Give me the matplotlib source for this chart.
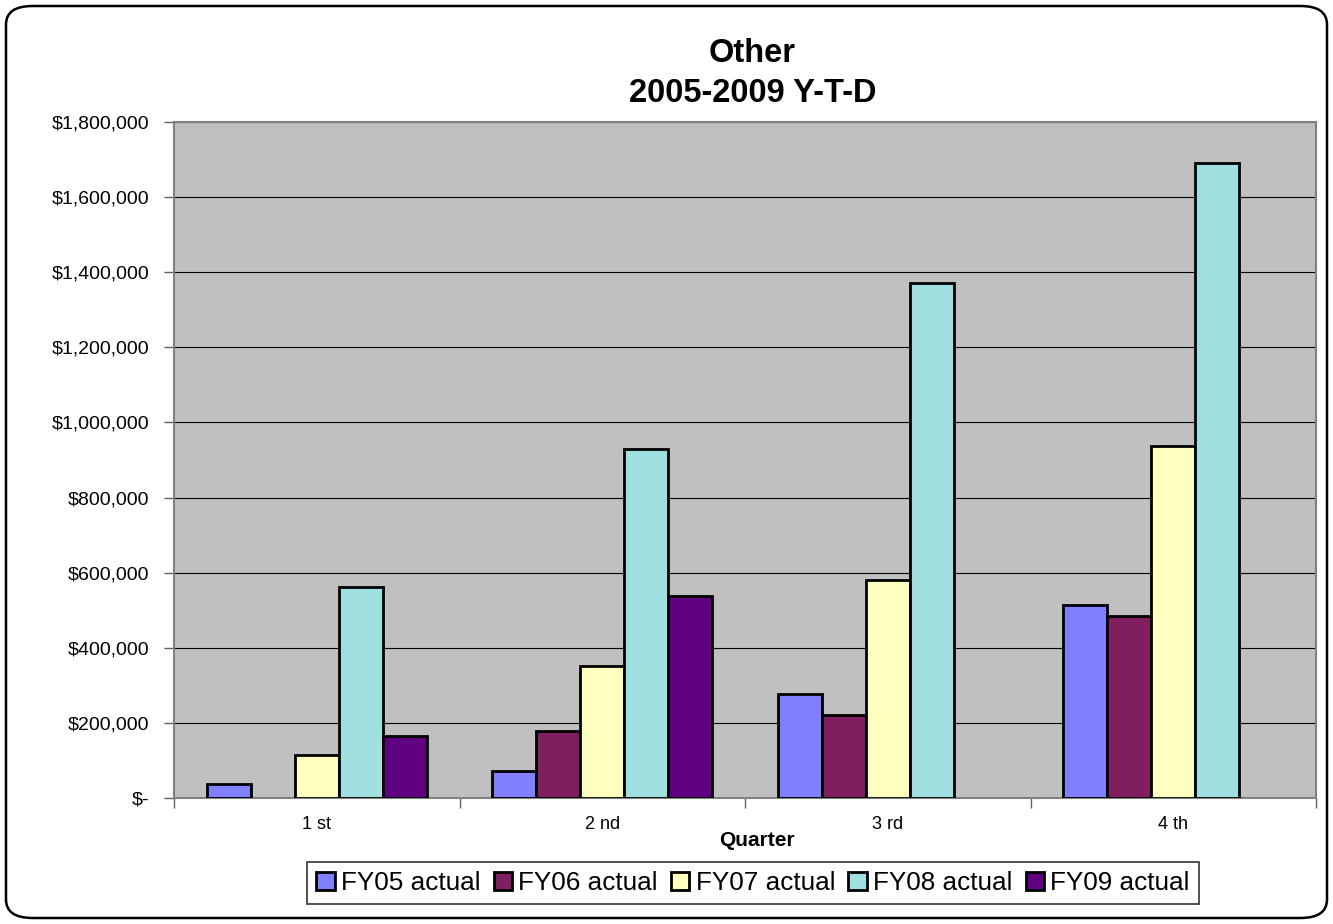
import numpy as np
import matplotlib.pyplot as plt
from matplotlib.patches import FancyBboxPatch
from matplotlib.ticker import FuncFormatter

plt.rcParams['font.family'] = ['Liberation Sans', 'DejaVu Sans']

quarters = ['1 st', '2 nd', '3 rd', '4 th']
series = ['FY05 actual', 'FY06 actual', 'FY07 actual', 'FY08 actual', 'FY09 actual']
fy05 = [38000, 71000, 278000, 515000]
fy06 = [np.nan, 178000, 220000, 485000]
fy07 = [114000, 351000, 580000, 937000]
fy08 = [562000, 930000, 1372000, 1692000]
fy09 = [164000, 538000, np.nan, np.nan]
valores = [fy05, fy06, fy07, fy08, fy09]
cores = ['#8080FF', '#7F1F5F', '#FFFFC0', '#A0E0E0', '#600080']

fig = plt.figure(figsize=(13.33, 9.24), dpi=100)
moldura = FancyBboxPatch((6 / 1333, 6 / 924), 1321 / 1333, 912 / 924,
                         boxstyle='round,pad=0,rounding_size=0.02',
                         transform=fig.transFigure, facecolor='none',
                         edgecolor='black', linewidth=1.8)
fig.patches.append(moldura)

ax = fig.add_axes([174 / 1333, 1 - 798 / 924, 1142 / 1333, 676 / 924])
ax.set_facecolor('#C0C0C0')

x = np.arange(len(quarters))
largura = 1 / 6.5
for i, (nome, vals, cor) in enumerate(zip(series, valores, cores)):
    ax.bar(x + (i - 2) * largura, vals, largura, color=cor, edgecolor='black',
           linewidth=2.0, label=nome, zorder=3)

ax.set_xlim(-0.5, 3.5)
ax.set_ylim(0, 1800000)
ax.set_yticks(np.arange(0, 1800001, 200000))
ax.yaxis.set_major_formatter(FuncFormatter(lambda v, p: '$-' if v == 0 else f'${v:,.0f}'))
ax.grid(axis='y', color='black', linewidth=0.8, zorder=1)

ax.set_xticks(x)
ax.set_xticklabels(quarters)
ax.set_xticks(np.arange(-0.5, 4, 1), minor=True)
ax.tick_params(axis='x', which='major', length=0, labelsize=13, pad=13)
ax.tick_params(axis='x', which='minor', length=7, color='#606060', width=1)
ax.tick_params(axis='y', length=7, color='#606060', width=1, labelsize=14, pad=11)

for lado in ax.spines.values():
    lado.set_color('#808080')
    lado.set_linewidth(1.5)

fig.text(757 / 1333, 1 - 840 / 924, 'Quarter', ha='center', va='center',
         fontsize=15, fontweight='bold')
fig.text(0.5645, 1 - 54 / 924, 'Other', ha='center', va='center',
         fontsize=23.5, fontweight='bold')
fig.text(0.5645, 1 - 94 / 924, '2005-2009 Y-T-D', ha='center', va='center',
         fontsize=23.5, fontweight='bold')

leg = fig.legend(loc='center', bbox_to_anchor=(753 / 1333, 1 - 883 / 924), ncol=5,
                 fontsize=18.8, frameon=True, fancybox=False, edgecolor='black',
                 handlelength=0.7, handleheight=0.7, handletextpad=0.25,
                 columnspacing=0.5, borderpad=0.35, borderaxespad=0)
leg.get_frame().set_linewidth(1.2)

fig.savefig('out.png', dpi=100)
